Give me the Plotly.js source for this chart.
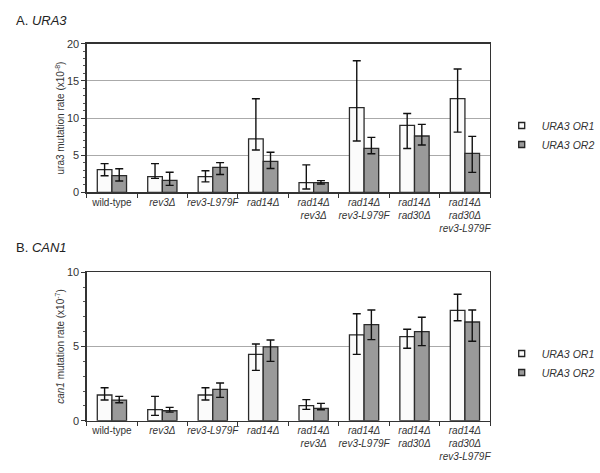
<!DOCTYPE html>
<html><head><meta charset="utf-8">
<script src="https://cdn.plot.ly/plotly-3.0.1.min.js"></script>
<style>html,body{margin:0;padding:0;background:#fff}</style>
</head><body><div id="chart" style="width:600px;height:473px"></div>
<script>
const categories = ['wild-type','<i>rev3Δ</i>','<i>rev3-L979F</i>','<i>rad14Δ</i>','<i>rad14Δ<br>rev3Δ</i>','<i>rad14Δ<br>rev3-L979F</i>','<i>rad14Δ<br>rad30Δ</i>','<i>rad14Δ<br>rad30Δ<br>rev3-L979F</i>'];
const seriesNames = ['<i>URA3 OR1</i>','<i>URA3 OR2</i>'];
// URA3 panel
const ura3_or1 = [3.05, 2.1, 2.1, 7.2, 1.3, 11.4, 9.0, 12.6];
const ura3_or1_hi = [3.86, 3.86, 2.9, 12.6, 3.7, 17.7, 10.6, 16.6];
const ura3_or1_lo = [2.24, 1.88, 1.4, 5.7, 0.45, 6.9, 5.9, 8.1];
const ura3_or2 = [2.24, 1.6, 3.36, 4.17, 1.3, 5.92, 7.58, 5.25];
const ura3_or2_hi = [3.18, 2.7, 4.0, 5.4, 1.57, 7.4, 9.15, 7.53];
const ura3_or2_lo = [1.52, 0.94, 2.4, 3.2, 1.12, 5.2, 6.37, 2.69];
// CAN1 panel
const can1_or1 = [1.73, 0.74, 1.73, 4.47, 1.01, 5.78, 5.66, 7.44];
const can1_or1_hi = [2.22, 1.64, 2.22, 5.17, 1.42, 7.21, 6.16, 8.52];
const can1_or1_lo = [1.39, 0.36, 1.39, 3.39, 0.76, 4.47, 4.88, 6.74];
const can1_or2 = [1.39, 0.67, 2.11, 4.97, 0.83, 6.47, 6.0, 6.65];
const can1_or2_hi = [1.64, 0.9, 2.54, 5.44, 1.17, 7.46, 6.97, 7.46];
const can1_or2_lo = [1.21, 0.58, 1.57, 4.0, 0.74, 5.46, 5.06, 5.35];

const colors = ['#fbfbfb', '#9a9a9a'];
function bar(vals, hi, lo, idx, xa, ya) {
  return {
    type: 'bar', x: categories, y: vals, name: seriesNames[idx],
    xaxis: xa, yaxis: ya, showlegend: false,
    marker: {color: colors[idx], line: {color: '#2a2a2a', width: 1.3}},
    error_y: {type: 'data', symmetric: false,
      array: vals.map((v,i)=>hi[i]-v), arrayminus: vals.map((v,i)=>v-lo[i]),
      color: '#111', thickness: 1.4, width: 4}
  };
}
function legItem(idx, xa, ya, leg) {
  return {type: 'scatter', mode: 'markers', x: [null], y: [null], xaxis: xa, yaxis: ya,
    name: seriesNames[idx], legend: leg, showlegend: true,
    marker: {symbol: 'square', size: 6, color: colors[idx], line: {color: '#222', width: 1.3}}};
}
const data = [
  bar(ura3_or1, ura3_or1_hi, ura3_or1_lo, 0, 'x', 'y'),
  bar(ura3_or2, ura3_or2_hi, ura3_or2_lo, 1, 'x', 'y'),
  bar(can1_or1, can1_or1_hi, can1_or1_lo, 0, 'x2', 'y2'),
  bar(can1_or2, can1_or2_hi, can1_or2_lo, 1, 'x2', 'y2'),
  legItem(0, 'x', 'y', 'legend'), legItem(1, 'x', 'y', 'legend'),
  legItem(0, 'x2', 'y2', 'legend2'), legItem(1, 'x2', 'y2', 'legend2')
];
const font = {family: 'Liberation Sans, Arial, sans-serif', size: 10, color: '#333'};
const xax = (anchor) => ({
  domain: [0.15, 0.848], anchor: anchor, tickson: 'boundaries', ticks: 'outside', ticklen: 4,
  tickcolor: '#333', showline: true, linecolor: '#333', linewidth: 1.3, mirror: true,
  tickangle: 0, tickfont: {family: font.family, size: 10, color: '#333'}, fixedrange: true
});
const yax = (anchor, dom, max, dtick, title) => ({
  domain: dom, anchor: anchor, range: [0, max], dtick: dtick, ticks: 'outside', ticklen: 4,
  tickcolor: '#333', showline: true, linecolor: '#333', linewidth: 1.3, mirror: true,
  showgrid: true, gridcolor: '#aaa', gridwidth: 1, zeroline: false,
  minor: {dtick: 1, ticks: 'outside', ticklen: 2, tickcolor: '#555', showgrid: false},
  tickfont: {family: font.family, size: 11, color: '#333'},
  title: {text: title, font: {family: font.family, size: 10, color: '#333'}, standoff: 0}
});
const legendStyle = (y) => ({x: 0.868, y: y, xanchor: 'left', yanchor: 'middle', bgcolor: 'rgba(0,0,0,0)',
  font: {family: font.family, size: 10.5, color: '#333'}, itemwidth: 30, tracegroupgap: 0});
const layout = {
  width: 600, height: 473, margin: {l: 0, r: 0, t: 0, b: 0},
  paper_bgcolor: '#fff', plot_bgcolor: '#fff', font: font,
  barmode: 'group', bargap: 0.42, bargroupgap: 0,
  showlegend: true,
  xaxis: xax('y'), yaxis: yax('x', [0.5934, 0.9076], 20, 5, 'ura3 mutation rate (x10<sup>-8</sup>)'),
  xaxis2: xax('y2'), yaxis2: yax('x2', [0.1106, 0.4243], 10, 5, '<i>can1</i> mutation rate (x10<sup>-7</sup>)'),
  legend: legendStyle(1 - 135/473),
  legend2: legendStyle(1 - 363/473),
  annotations: [
    {text: 'A. <i>URA3</i>', x: 15/600, y: 1 - 20/473, xref: 'paper', yref: 'paper', xanchor: 'left', yanchor: 'middle', showarrow: false, font: {family: font.family, size: 13, color: '#222'}},
    {text: 'B. <i>CAN1</i>', x: 15/600, y: 1 - 247/473, xref: 'paper', yref: 'paper', xanchor: 'left', yanchor: 'middle', showarrow: false, font: {family: font.family, size: 13, color: '#222'}}
  ]
};
Plotly.newPlot('chart', data, layout, {displayModeBar: false, staticPlot: true});
</script></body></html>
